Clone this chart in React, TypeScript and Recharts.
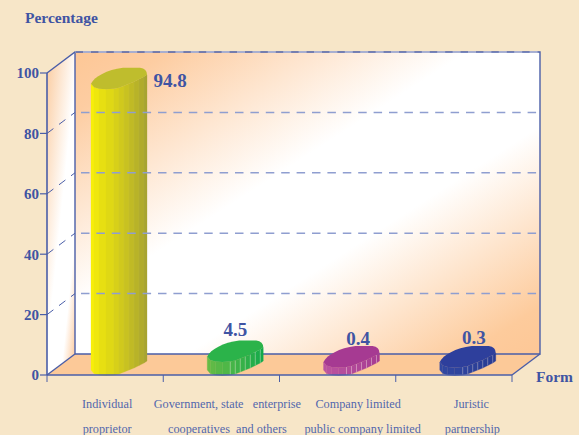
import { BarChart, Bar, XAxis, YAxis, ReferenceLine, LabelList } from "recharts";

const categories = ["Individual proprietor", "Government", "Company limited", "Juristic partnership"];
const values = [94.8, 4.5, 0.4, 0.3];
const yTicks = [0, 20, 40, 60, 80, 100];
const gridTicks = [20, 40, 60, 80];
const labelLines = [
  ["Individual", "proprietor"],
  ["Government, state   enterprise", "cooperatives  and others"],
  ["Company limited", "public company limited"],
  ["Juristic", "partnership"],
];

const barFaces = [
  { cap: "#bfbd2d", light: [247, 238, 10], dark: [168, 164, 48], seam: 0.06 },
  { cap: "#2bb34a", light: [104, 188, 70], dark: [20, 170, 74], seam: 0.4 },
  { cap: "#a63a92", light: [188, 84, 160], dark: [166, 60, 146], seam: 0.4 },
  { cap: "#2e3f9c", light: [50, 72, 162], dark: [40, 58, 146], seam: 0.35 },
];

const WIDTH = 579;
const HEIGHT = 435;
const LEFT = 47;
const TOP = 73;
const RIGHT = 512;
const BOTTOM = 375;
const DX = 28;
const DY = 21;
const BAND = (RIGHT - LEFT) / 4;
const MIN_BODY = 8;

const BLUE = "#4a5ea8";
const TEXT = "#3f54a3";
const SERIF = "'Liberation Serif', serif";

const data = categories.map((name, i) => ({ name, value: values[i] }));

// lower rim of the extruded capsule, relative to the bar's top-left corner
const rim = [
  [0, -5], [3, -1.5], [8, 0], [15, 0.5], [23, 0], [28, -1], [33, -3],
  [38, -5], [43, -7], [48, -9.5], [53, -12], [56, -14],
];

const Walls = () => {
  const bx = LEFT + DX;
  const by = TOP - DY;
  const fx = RIGHT + DX;
  const fy = BOTTOM - DY;
  return (
    <g>
      <defs>
        <linearGradient id="back" gradientUnits="userSpaceOnUse" x1={bx} y1={by} x2={350} y2={478}>
          <stop offset="0" stopColor="#fdc796" />
          <stop offset="0.1" stopColor="#fdcda2" />
          <stop offset="0.42" stopColor="#ffffff" />
          <stop offset="0.62" stopColor="#ffffff" />
          <stop offset="0.92" stopColor="#fdcb9c" />
          <stop offset="1" stopColor="#fdc796" />
        </linearGradient>
        <linearGradient id="side" gradientUnits="userSpaceOnUse" x1={LEFT} y1={TOP} x2={105} y2={79}>
          <stop offset="0" stopColor="#fbcfa6" />
          <stop offset="0.49" stopColor="#ffffff" />
          <stop offset="0.77" stopColor="#ffffff" />
          <stop offset="1" stopColor="#fdc796" />
        </linearGradient>
      </defs>
      <polygon points={`${bx},${by} ${fx},${by} ${fx},${fy} ${bx},${fy}`} fill="url(#back)" />
      <polygon points={`${LEFT},${TOP} ${bx},${by} ${bx},${fy} ${LEFT},${BOTTOM}`} fill="url(#side)" />
      <polygon points={`${LEFT},${BOTTOM} ${bx},${fy} ${fx},${fy} ${RIGHT},${BOTTOM}`} fill="#fcc998" />
      <g stroke={BLUE} strokeWidth={1.4} fill="none">
        <path d={`M${LEFT},${TOP}L${bx},${by}L${fx},${by}L${fx},${fy}L${bx},${fy}`} />
        <path d={`M${bx},${by}L${bx},${fy}`} />
        <path d={`M${LEFT},${BOTTOM}L${bx},${fy}`} />
        <path d={`M${RIGHT},${BOTTOM}L${fx},${fy}`} />
      </g>
      <path d={`M${bx},${by}L${fx},${by}`} stroke="#b9c0dc" strokeWidth={1.4} strokeDasharray="8 7.4" strokeDashoffset={-8} />
    </g>
  );
};

const GridShape = (props: any) => {
  const { y1 } = props;
  const bx = LEFT + DX;
  const by = y1 - DY;
  return (
    <g fill="none">
      <path d={`M${LEFT},${y1}L${bx},${by}`} stroke={BLUE} strokeWidth={1} strokeDasharray="8 7" />
      <path d={`M${bx},${by}L${RIGHT + DX},${by}`} stroke="#8f9ed0" strokeWidth={1.5} strokeDasharray="8.5 6.9" strokeDashoffset={-6} />
    </g>
  );
};

const mix = (a: number[], b: number[], t: number) =>
  `rgb(${a.map((c, i) => Math.round(c + (b[i] - c) * t)).join(",")})`;

const CapsuleBar = (props: any) => {
  const { x, y, height, index } = props;
  const face = barFaces[index];
  const base = y + height;
  const body = Math.max(height, MIN_BODY);
  const top = base - body;
  const lower = rim
    .slice()
    .reverse()
    .map(([px, py]) => `L${x + px},${top + py}`)
    .join("");
  const cap =
    `M${x},${top - 5}C${x + 3},${top - 12} ${x + 16},${top - 19} ${x + 32},${top - DY}` +
    `L${x + 49},${top - DY}Q${x + 56},${top - 20} ${x + 56},${top - 14}${lower}Z`;
  return (
    <g>
      {rim.slice(0, -1).map(([px, py], i) => {
        const [qx, qy] = rim[i + 1];
        const shade = mix(face.light, face.dark, i / (rim.length - 2));
        const pts = `${x + px},${top + py} ${x + qx},${top + qy} ${x + qx},${top + qy + body} ${x + px},${top + py + body}`;
        return (
          <g key={i}>
            <polygon points={pts} fill={shade} stroke={shade} strokeWidth={0.3} />
            {i > 3 && (
              <line x1={x + px} y1={top + py} x2={x + px} y2={top + py + body} stroke="#fff" strokeOpacity={face.seam} strokeWidth={0.8} />
            )}
          </g>
        );
      })}
      <path d={cap} fill={face.cap} />
    </g>
  );
};

const valueOffsets = [
  [79, -8],
  [28, -32],
  [34.5, -37],
  [34, -38],
];

const ValueLabel = (props: any) => {
  const { x, y, height, index, value } = props;
  const [ox, oy] = valueOffsets[index];
  const base = y + height;
  const body = Math.max(height, MIN_BODY);
  const top = index < 2 ? base - body : base;
  return (
    <text x={x + ox} y={top + oy} textAnchor="middle" dominantBaseline="central" fontFamily={SERIF} fontWeight="bold" fontSize={19} fill={TEXT}>
      {value}
    </text>
  );
};

const lineShift = [
  [2, 2],
  [6, 6],
  [20.5, 25],
  [17.5, 18.5],
];

const CategoryTick = (props: any) => {
  const { x, index } = props;
  const lines = labelLines[index];
  return (
    <g>
      <line x1={x - BAND / 2} y1={BOTTOM} x2={x - BAND / 2} y2={BOTTOM + 7} stroke={BLUE} strokeWidth={1} />
      {index === categories.length - 1 && (
        <line x1={x + BAND / 2} y1={BOTTOM} x2={x + BAND / 2} y2={BOTTOM + 7} stroke={BLUE} strokeWidth={1} />
      )}
      {lines.map((line, i) => (
        <text
          key={i}
          x={x + lineShift[index][i]}
          y={403.5 + i * 25}
          textAnchor="middle"
          dominantBaseline="central"
          fontFamily={SERIF}
          fontSize={12.25}
          fill="#5266ad"
          style={{ whiteSpace: "pre" }}
        >
          {line}
        </text>
      ))}
    </g>
  );
};

export default function App() {
  return (
    <div style={{ position: "absolute", left: 0, top: 0, width: WIDTH, height: HEIGHT, background: "#f7e6c8" }}>
      <BarChart
        width={WIDTH}
        height={HEIGHT}
        data={data}
        margin={{ top: TOP, right: WIDTH - RIGHT, bottom: 0, left: 0 }}
      >
        <Walls />
        {gridTicks.map((t) => (
          <ReferenceLine key={t} y={t} shape={GridShape} ifOverflow="visible" />
        ))}
        <XAxis
          dataKey="name"
          height={HEIGHT - BOTTOM}
          interval={0}
          tickLine={false}
          tick={CategoryTick}
          axisLine={{ stroke: BLUE, strokeWidth: 1.6 }}
        />
        <YAxis
          width={LEFT}
          domain={[0, 100]}
          ticks={yTicks}
          tickSize={7}
          tickMargin={1}
          axisLine={{ stroke: BLUE, strokeWidth: 1.6 }}
          tickLine={{ stroke: BLUE, strokeWidth: 1.2 }}
          tick={{ fill: TEXT, fontFamily: SERIF, fontWeight: "bold", fontSize: 15 }}
        />
        <Bar dataKey="value" barSize={28} shape={CapsuleBar} isAnimationActive={false}>
          <LabelList dataKey="value" content={ValueLabel} />
        </Bar>
        <text x={25} y={17} dominantBaseline="central" fontFamily={SERIF} fontWeight="bold" fontSize={15.5} fill={TEXT}>
          Percentage
        </text>
        <text x={536} y={376} dominantBaseline="central" fontFamily={SERIF} fontWeight="bold" fontSize={15.5} fill={TEXT}>
          Form
        </text>
      </BarChart>
    </div>
  );
}
